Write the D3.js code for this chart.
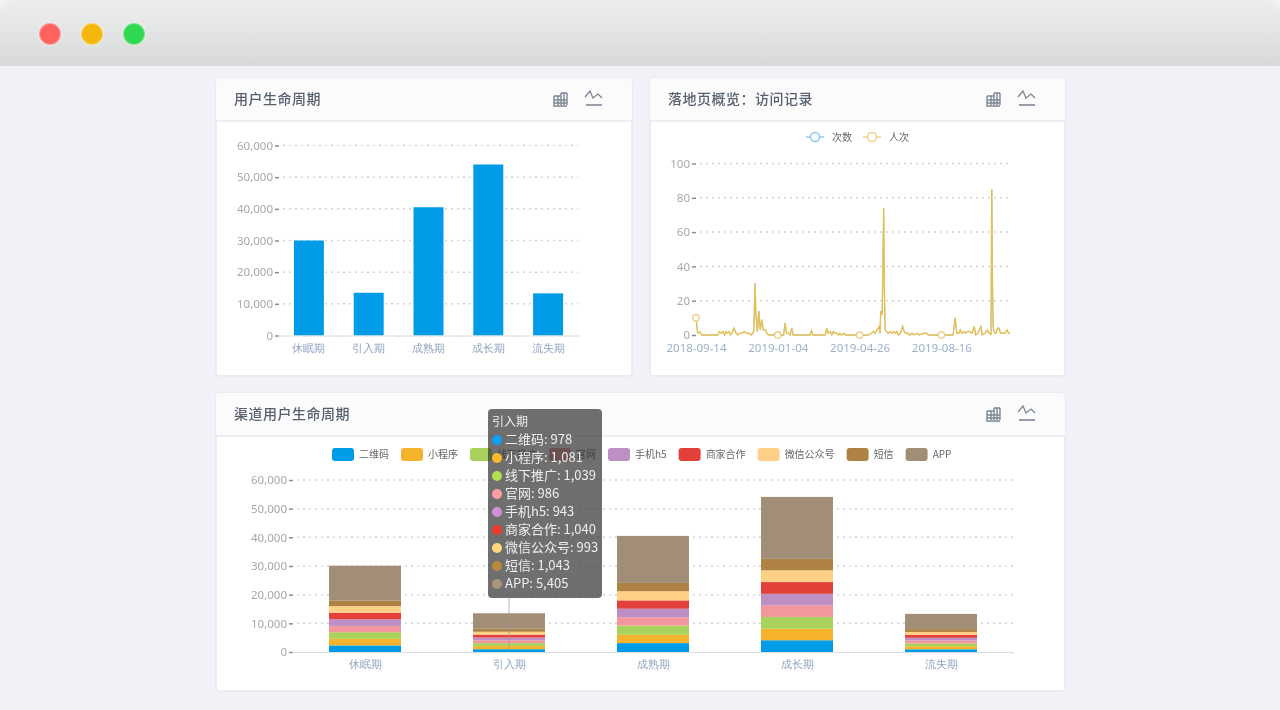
<!DOCTYPE html>
<html>
<head>
<meta charset="utf-8">
<script src="https://cdn.jsdelivr.net/npm/d3@7"></script>
<style>
  html, body { margin: 0; padding: 0; background: #fff; }
  svg { display: block; filter: blur(0.6px); font-family: "Noto Sans CJK SC", "Noto Sans", sans-serif; }
</style>
</head>
<body>
<svg id="chart" width="1280" height="710"></svg>
<script>
// chart data
const stages = ['休眠期', '引入期', '成熟期', '成长期', '流失期'];
const stageTotals = [30000, 13500, 40500, 54000, 13300];

const channels = ['二维码', '小程序', '线下推广', '官网', '手机h5', '商家合作', '微信公众号', '短信', 'APP'];
const channelColors = ['#009ce8', '#f6b32e', '#a9d25c', '#f2979b', '#bd8fc4', '#e2413a', '#fdd085', '#ae8243', '#a28e76'];
const tooltipDotColors = ['#0aa2f5', '#fbb92a', '#b0e04e', '#ff9fa5', '#d090d8', '#ee3b30', '#ffd67c', '#b88a40', '#aa967c'];
const dormantValues = [2300, 2300, 2300, 2200, 2300, 2300, 2300, 1900, 12200];
const introValues = [978, 1081, 1039, 986, 943, 1040, 993, 1043, 5405];
const matureValues = [3100, 2900, 3200, 2900, 3000, 2900, 3200, 2900, 16400];
const growthValues = [4100, 4000, 4100, 4100, 4000, 4100, 4100, 4000, 21600];
const churnValues = [950, 1050, 1000, 1000, 950, 1040, 1000, 1000, 5310];
const stageValues = [dormantValues, introValues, matureValues, growthValues, churnValues];

// days since 2018-09-14 for each reading of the visit line
const visitDays = [
  0, 2, 3, 5, 8, 30, 32, 35, 37, 39, 41, 43, 45, 47, 49, 52, 55, 57, 60, 63,
  66, 69, 72, 76, 79, 81, 82, 84, 86, 88, 90, 92, 95, 97, 100, 106, 108, 110, 112, 120,
  122, 124, 127, 129, 131, 133, 156, 158, 160, 177, 179, 181, 184, 186, 188, 190, 193, 195, 197, 199,
  203, 205, 224, 236, 240, 243, 245, 248, 251, 252, 253, 255, 257, 258, 259, 261, 263, 266, 268, 271,
  273, 275, 277, 280, 283, 285, 287, 290, 292, 296, 298, 303, 305, 313, 316, 318, 336, 352, 355, 357,
  360, 362, 364, 367, 369, 372, 375, 378, 381, 383, 386, 390, 392, 396, 399, 401, 403, 404, 405, 406,
  407, 409, 411, 413, 415, 417, 420, 423, 426, 428, 430];
const visitCounts = [
  10, 2, 1, 2, 0, 0, 2, 1, 2, 0, 2, 1, 2, 0, 1, 4, 1, 0, 1, 1,
  2, 1, 1, 0, 2, 30, 12, 2, 14, 3, 9, 3, 3, 1, 0, 0, 1, 1, 0, 0,
  7, 1, 1, 0, 4, 0, 0, 2.5, 0, 0, 4, 1, 2, 0, 2, 1, 1, 0, 1, 0,
  1, 0, 0, 0, 1, 2, 1, 3, 5, 1, 14, 12, 74, 26, 3, 2, 1, 2, 1, 2,
  1, 2, 0, 1, 5, 2, 1, 1, 0, 1, 0, 1, 0, 1, 1, 0, 0, 0, 10, 1,
  1, 3, 1, 2, 1, 2, 2, 1, 5, 0, 1, 5, 0, 1, 3, 1, 1, 0, 85, 30,
  4, 1, 1, 4, 4, 1, 1, 1, 3, 1, 1];
const markerDays = [0, 112, 224, 336];
const dateTicks = ['2018-09-14', '2019-01-04', '2019-04-26', '2019-08-16'];

const svg = d3.select('#chart');
const fmt = d3.format(',');
const parseDay = d3.utcParse('%Y-%m-%d');
const firstDay = parseDay(dateTicks[0]);

// window background and title bar
svg.append('rect').attr('width', 1280).attr('height', 710).attr('fill', '#f0f2f8');
const barGrad = svg.append('defs').append('linearGradient').attr('id', 'barGrad')
  .attr('x1', 0).attr('x2', 0).attr('y1', 0).attr('y2', 1);
barGrad.append('stop').attr('offset', '0%').attr('stop-color', '#eeeeee');
barGrad.append('stop').attr('offset', '100%').attr('stop-color', '#d8dada');
svg.append('path').attr('d', 'M0,66V14Q0,0 14,0H1266Q1280,0 1280,14V66Z').attr('fill', 'url(#barGrad)');
svg.selectAll('circle.light').data(['#ff6360', '#f5b70c', '#2ed84f']).enter().append('circle')
  .attr('class', 'light').attr('cx', (d, i) => 50 + i * 42).attr('cy', 34).attr('r', 11).attr('fill', d => d)
  .attr('stroke', '#fff').attr('stroke-opacity', 0.35).attr('stroke-width', 2);

function card(x, y, w, h, title) {
  svg.append('rect').attr('x', x).attr('y', y).attr('width', w).attr('height', h).attr('rx', 4)
    .attr('fill', '#fff').attr('stroke', '#e6e8ef').attr('stroke-width', 1.5);
  svg.append('path').attr('d', `M${x},${y + 43}V${y + 4}Q${x},${y} ${x + 4},${y}H${x + w - 4}Q${x + w},${y} ${x + w},${y + 4}V${y + 43}Z`)
    .attr('fill', '#fbfbfc');
  svg.append('line').attr('x1', x).attr('x2', x + w).attr('y1', y + 43).attr('y2', y + 43)
    .attr('stroke', '#e8eaf0').attr('stroke-width', 1.5);
  svg.append('text').attr('x', x + 18).attr('y', y + 26).attr('font-size', 14).attr('letter-spacing', 0.5)
    .attr('fill', '#56606e').attr('font-weight', 500).text(title);
  icons(x + w - 71, y + 21);
}

function icons(cx, cy) {
  const g = svg.append('g').attr('transform', `translate(${cx},${cy})`).attr('fill', 'none').attr('stroke', '#7d8794');
  g.append('path').attr('stroke-width', 1.4).attr('d', 'M-8,7H6M-7,-3V6M-3,-3V6M0,-6V6M3,-6V6M6,-6V6M-7,-3H0M-7,1H6M-7,4H6M0,-6H6');
  g.append('path').attr('stroke-width', 1.3).attr('d', 'M24,-2L29,-8L32,-1L37,-5L41,-1');
  g.append('path').attr('stroke-width', 1.6).attr('d', 'M25,6H41');
}

function yAxis(scale, left, right, ticks) {
  const axis = svg.append('g').attr('transform', `translate(${left},0)`)
    .call(d3.axisLeft(scale).tickValues(ticks).tickSize(4).tickPadding(2).tickFormat(fmt));
  axis.select('.domain').remove();
  axis.selectAll('.tick line').attr('stroke', '#8c8c8c').attr('stroke-width', 1.5);
  axis.selectAll('text').attr('font-size', 11.5).attr('fill', '#a8a8a8').attr('font-family', '"Noto Sans", sans-serif');
  svg.append('g').selectAll('line').data(ticks.filter(d => d > 0)).enter().append('line')
    .attr('x1', left + 4).attr('x2', right).attr('y1', d => scale(d)).attr('y2', d => scale(d))
    .attr('stroke', '#d4d4d4').attr('stroke-width', 1.5).attr('stroke-dasharray', '2 4');
}

function bandAxis(scale, y) {
  const axis = svg.append('g').attr('transform', `translate(0,${y})`)
    .call(d3.axisBottom(scale).tickSize(0).tickPadding(9));
  axis.select('.domain').attr('stroke', '#dcdcdc');
  axis.selectAll('text').attr('font-size', 10.5).attr('fill', '#90a4c2');
  axis.selectAll('line.sep').data(d3.range(stages.length + 1)).enter().append('line').attr('class', 'sep')
    .attr('x1', d => scale.range()[0] + d * scale.step()).attr('x2', d => scale.range()[0] + d * scale.step())
    .attr('y1', 0).attr('y2', 2).attr('stroke', '#dcdcdc');
}

card(216, 78, 416, 298, '用户生命周期');
card(650, 78, 415, 298, '落地页概览：访问记录');
card(216, 393, 849, 298, '渠道用户生命周期');

// top left: lifecycle bars
const amountTicks = [0, 10000, 20000, 30000, 40000, 50000, 60000];
const x1 = d3.scaleBand().domain(stages).range([279, 578]).padding(0);
const y1 = d3.scaleLinear().domain([0, 60000]).range([335.5, 145.5]);
yAxis(y1, 279, 578, amountTicks);
svg.append('g').selectAll('rect').data(stageTotals).enter().append('rect')
  .attr('x', (d, i) => x1(stages[i]) + x1.step() / 2 - 15).attr('width', 30)
  .attr('y', d => y1(d)).attr('height', d => y1(0) - y1(d)).attr('fill', '#009ce8');
bandAxis(x1, 335.5);

// top right: visit lines
const x2 = d3.scaleUtc().domain([firstDay, d3.utcDay.offset(firstDay, 430)]).range([696, 1010]);
const y2 = d3.scaleLinear().domain([0, 100]).range([335, 163.5]);
yAxis(y2, 696, 1010, [0, 20, 40, 60, 80, 100]);
const visitLine = d3.line()
  .x(d => x2(d3.utcDay.offset(firstDay, d)))
  .y(d => y2(visitCounts[visitDays.indexOf(d)]));
svg.append('path').datum(visitDays).attr('d', visitLine).attr('fill', 'none').attr('stroke', '#8fd0f2').attr('stroke-width', 1);
svg.append('path').datum(visitDays).attr('d', visitLine).attr('fill', 'none').attr('stroke', '#e8bf55').attr('stroke-width', 1.4);
svg.append('g').selectAll('circle').data(markerDays).enter().append('circle')
  .attr('cx', d => x2(d3.utcDay.offset(firstDay, d))).attr('cy', d => y2(visitCounts[visitDays.indexOf(d)]))
  .attr('r', 3.2).attr('fill', '#fff').attr('stroke', '#f0c674').attr('stroke-width', 1.2);
const dateAxis = svg.append('g').attr('transform', 'translate(0,335)')
  .call(d3.axisBottom(x2).tickValues(dateTicks.map(parseDay)).tickSize(0).tickPadding(9).tickFormat(d3.utcFormat('%Y-%m-%d')));
dateAxis.select('.domain').remove();
dateAxis.selectAll('text').attr('font-size', 11.5).attr('fill', '#9db0ca').attr('font-family', '"Noto Sans", sans-serif');

[['次数', '#85c8f0', 806], ['人次', '#f3cd85', 863]].forEach(([name, color, lx]) => {
  svg.append('line').attr('x1', lx).attr('x2', lx + 18).attr('y1', 137).attr('y2', 137).attr('stroke', color).attr('stroke-width', 1.4);
  svg.append('circle').attr('cx', lx + 9).attr('cy', 137).attr('r', 4.5).attr('fill', '#fff').attr('stroke', color).attr('stroke-width', 1.4);
  svg.append('text').attr('x', lx + 26).attr('y', 141).attr('font-size', 10).attr('fill', '#666').text(name);
});

// bottom: stacked channel bars
const x3 = d3.scaleBand().domain(stages).range([293, 1013]).padding(0);
const y3 = d3.scaleLinear().domain([0, 60000]).range([652, 480]);
yAxis(y3, 293, 1013, amountTicks);
const stackRows = stages.map((s, i) => {
  const row = { stage: s };
  channels.forEach((c, j) => { row[c] = stageValues[i][j]; });
  return row;
});
const stacked = d3.stack().keys(channels)(stackRows);
svg.append('g').selectAll('g').data(stacked).enter().append('g')
  .attr('fill', (d, i) => channelColors[i])
  .selectAll('rect').data(d => d).enter().append('rect')
  .attr('x', d => x3(d.data.stage) + x3.step() / 2 - 36).attr('width', 72)
  .attr('y', d => y3(d[1])).attr('height', d => y3(d[0]) - y3(d[1]));
bandAxis(x3, 652);

// legend, laid out from measured text widths
let legendX = 332;
channels.forEach((name, i) => {
  svg.append('rect').attr('x', legendX).attr('y', 448).attr('width', 22).attr('height', 13).attr('rx', 3).attr('fill', channelColors[i]);
  const label = svg.append('text').attr('x', legendX + 27).attr('y', 458).attr('font-size', 10).attr('fill', '#666').text(name);
  legendX += 27 + label.node().getComputedTextLength() + 12;
});

// tooltip on the 引入期 column
const pointerX = x3('引入期') + x3.step() / 2;
svg.append('line').attr('x1', pointerX).attr('x2', pointerX).attr('y1', 598).attr('y2', y3(0))
  .attr('stroke', '#999').attr('stroke-opacity', 0.7);
const tip = svg.append('g').attr('transform', 'translate(488,409)');
tip.append('rect').attr('width', 114).attr('height', 189).attr('rx', 4).attr('fill', 'rgb(50,50,50)').attr('fill-opacity', 0.7);
tip.append('text').attr('x', 4).attr('y', 17).attr('font-size', 12).attr('fill', '#eee').text('引入期');
channels.forEach((name, i) => {
  const rowY = 31 + i * 18;
  tip.append('circle').attr('cx', 9).attr('cy', rowY).attr('r', 5).attr('fill', tooltipDotColors[i]);
  tip.append('text').attr('x', 17).attr('y', rowY + 4).attr('font-size', 13).attr('fill', '#eee')
    .text(`${name}: ${fmt(introValues[i])}`);
});
</script>
</body>
</html>
